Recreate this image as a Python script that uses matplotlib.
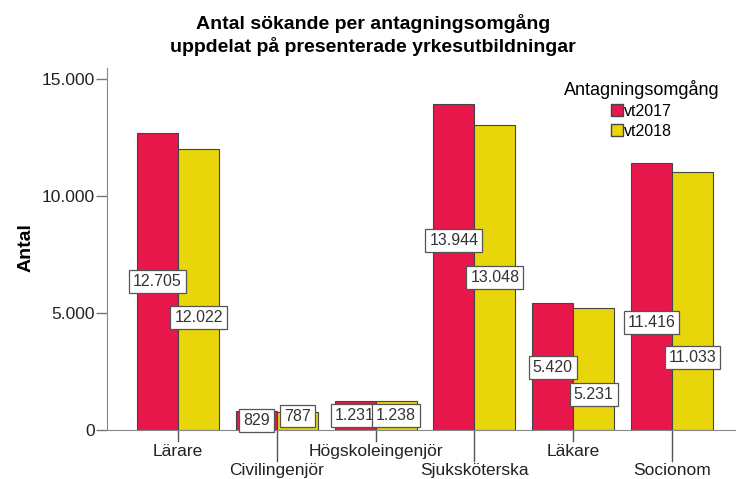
import numpy as np
import matplotlib
matplotlib.use("Agg")
import matplotlib.pyplot as plt
from matplotlib.patches import Patch

plt.rcParams['font.family'] = ['Liberation Sans', 'DejaVu Sans']

# data
kategorier = ["Lärare", "Civilingenjör", "Högskoleingenjör", "Sjuksköterska", "Läkare", "Socionom"]
vt2017 = [12705, 829, 1231, 13944, 5420, 11416]
vt2018 = [12022, 787, 1238, 13048, 5231, 11033]
serier = ["vt2017", "vt2018"]

# placering av etiketter (andel av stapelns höjd)
frac17 = [0.5, 0.515, 0.52, 0.582, 0.493, 0.404]
frac18 = [0.40, 0.76, 0.517, 0.498, 0.286, 0.279]

rod = "#e8174b"
gul = "#e8d60a"
kant = "#555555"

fig = plt.figure(figsize=(7.39, 4.79), dpi=100)
ax = fig.add_axes([0.1448, 0.1023, 0.85, 0.7557])

x = np.arange(len(kategorier))
w = 0.415
ax.bar(x - w / 2, vt2017, w, color=rod, edgecolor="#444444", linewidth=0.8)
ax.bar(x + w / 2, vt2018, w, color=gul, edgecolor="#444444", linewidth=0.8)

def fmt(v):
    return f"{v:,}".replace(",", ".")

box = dict(boxstyle="square,pad=0.25", facecolor="white", edgecolor=kant, linewidth=0.9)
for i in range(len(kategorier)):
    ax.text(x[i] - w / 2, vt2017[i] * frac17[i], fmt(vt2017[i]), ha="center", va="center",
            fontsize=11.5, color="#333333", bbox=box)
    ax.text(x[i] + w / 2, vt2018[i] * frac18[i], fmt(vt2018[i]), ha="center", va="center",
            fontsize=11.5, color="#333333", bbox=box)

ax.set_xlim(-0.72, 5.64)
ax.set_ylim(0, 15470)
ax.set_yticks([0, 5000, 10000, 15000])
ax.set_yticklabels(["0", "5.000", "10.000", "15.000"], fontsize=12.5, color="#222222")
ax.tick_params(axis="y", length=8, width=1, color="#777777", pad=1)

# x-axelns etiketter i två nivåer
ax.set_xticks(x)
ax.set_xticklabels([])
ax.tick_params(axis="x", length=0)
for i, namn in enumerate(kategorier):
    lang = i % 2 == 1
    ax.plot([x[i], x[i]], [0, -0.085 if lang else -0.03], transform=ax.get_xaxis_transform(),
            color="#555555", linewidth=1, clip_on=False)
    ax.text(x[i], -0.06 if not lang else -0.112, namn, transform=ax.get_xaxis_transform(),
            ha="center", va="center", fontsize=12.5, color="#222222")

for s in ["top", "right"]:
    ax.spines[s].set_visible(False)
ax.spines["left"].set_color("#888888")
ax.spines["bottom"].set_color("#888888")

ax.set_ylabel("Antal", fontsize=14, fontweight="bold")
ax.yaxis.set_label_coords(-0.116, 0.505)
fig.suptitle("Antal sökande per antagningsomgång\nuppdelat på presenterade yrkesutbildningar",
             x=0.505, y=0.971, fontsize=14, fontweight="bold", linespacing=1.28)

handles = [Patch(facecolor=rod, edgecolor="#444444", label=serier[0]),
           Patch(facecolor=gul, edgecolor="#444444", label=serier[1])]
leg = ax.legend(handles=handles, title="Antagningsomgång", loc="upper right",
                bbox_to_anchor=(0.99, 0.993), frameon=False, fontsize=11.5, title_fontsize=13,
                handlelength=0.75, handleheight=0.8, handletextpad=0.1, labelspacing=0.3,
                borderaxespad=0.2)
leg._legend_box.align = "center"

fig.savefig("out.png", dpi=100)
